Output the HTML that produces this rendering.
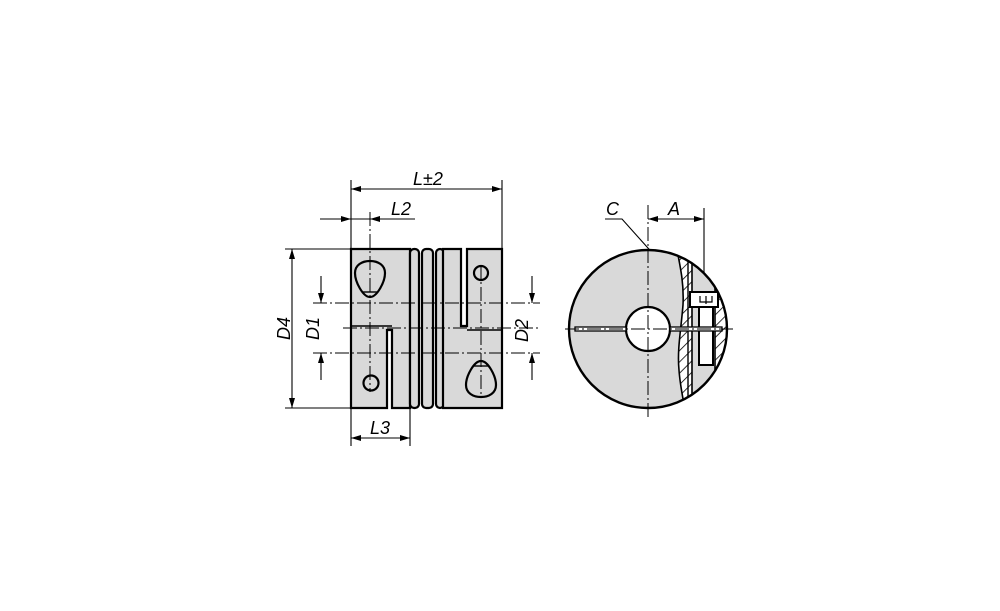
<!DOCTYPE html>
<html><head><style>html,body{margin:0;background:#fff}svg{display:block}</style></head><body>
<svg width="1000" height="611" viewBox="0 0 1000 611" xmlns="http://www.w3.org/2000/svg" font-family="Liberation Sans, sans-serif">
<defs>
<pattern id="h" width="8" height="8" patternUnits="userSpaceOnUse" patternTransform="rotate(45)"><line x1="0" y1="0" x2="0" y2="8" stroke="#000" stroke-width="1.6"/></pattern>
<marker id="a" viewBox="0 0 10 6" refX="10" refY="3" markerWidth="10" markerHeight="6" orient="auto-start-reverse" markerUnits="userSpaceOnUse"><path d="M0,0L10,3L0,6z" fill="#000"/></marker>
<clipPath id="cc"><circle cx="648" cy="329" r="79"/></clipPath>
</defs>
<g stroke="#000" fill="#d9d9d9" stroke-width="2.2">
<path d="M351,249H410V408H392V330H387V408H351Z"/>
<line x1="351" y1="326" x2="392" y2="326" stroke-width="1.4"/>
<rect x="410" y="249" width="9" height="159" rx="4"/>
<rect x="422" y="249" width="11" height="159" rx="4"/>
<rect x="436" y="249" width="8" height="159" rx="4"/>
<path d="M443,249H461V326H467V249H502V408H443Z"/>
<line x1="467" y1="330" x2="502" y2="330" stroke-width="1.4"/>
<line x1="461" y1="326" x2="467" y2="326" stroke-width="1.4"/>
<path d="M370,297C363,297 355,282 355,273C355,265 362,261 370,261C378,261 385,265 385,273C385,282 377,297 370,297Z" fill="none"/>
<line x1="362" y1="292" x2="378" y2="292" stroke-width="1.4"/>
<circle cx="371" cy="383" r="7.5" fill="none"/>
<circle cx="481" cy="273" r="7" fill="none"/>
<path d="M481,361C488,361 496,376 496,385C496,393 489,397 481,397C473,397 466,393 466,385C466,376 474,361 481,361Z" fill="none"/>
<line x1="473" y1="366" x2="489" y2="366" stroke-width="1.4"/>
</g>
<g stroke="#000" stroke-width="1" stroke-dasharray="14,3,2,3" fill="none">
<line x1="343" y1="328" x2="540" y2="328"/>
<line x1="313" y1="303" x2="540" y2="303"/>
<line x1="313" y1="353" x2="540" y2="353"/>
<line x1="370" y1="212" x2="370" y2="392"/>
<line x1="481" y1="265" x2="481" y2="395"/>
</g>
<g stroke="#000" stroke-width="1.1" fill="none">
<line x1="351" y1="180" x2="351" y2="249"/><line x1="502" y1="180" x2="502" y2="249"/>
<line x1="351" y1="189" x2="502" y2="189" marker-start="url(#a)" marker-end="url(#a)"/>
<line x1="320" y1="219" x2="351" y2="219" marker-end="url(#a)"/>
<line x1="415" y1="219" x2="370" y2="219" marker-end="url(#a)"/>
<line x1="351" y1="219" x2="370" y2="219"/>
<line x1="285" y1="249" x2="351" y2="249"/><line x1="285" y1="408" x2="351" y2="408"/>
<line x1="292" y1="249" x2="292" y2="408" marker-start="url(#a)" marker-end="url(#a)"/>
<line x1="321" y1="276" x2="321" y2="303" marker-end="url(#a)"/>
<line x1="321" y1="380" x2="321" y2="353" marker-end="url(#a)"/>
<line x1="532" y1="276" x2="532" y2="303" marker-end="url(#a)"/>
<line x1="532" y1="380" x2="532" y2="353" marker-end="url(#a)"/>
<line x1="351" y1="408" x2="351" y2="446"/><line x1="410" y1="408" x2="410" y2="446"/>
<line x1="351" y1="438" x2="410" y2="438" marker-start="url(#a)" marker-end="url(#a)"/>
<line x1="704" y1="208" x2="704" y2="297"/>
<line x1="648" y1="219" x2="704" y2="219" marker-start="url(#a)" marker-end="url(#a)"/>
<polyline points="605,219 622,219 690,295"/>
</g>
<circle cx="648" cy="329" r="79" fill="#d9d9d9" stroke="none"/>
<g clip-path="url(#cc)">
<path d="M677,250C681,270 684,285 683,305C681,330 677,350 679,370C680,385 683,398 685,410H740V250Z" fill="#fff"/>
<path d="M677,250C681,270 684,285 683,305C681,330 677,350 679,370C680,385 683,398 685,410H740V250Z" fill="url(#h)" stroke="#000" stroke-width="1.6"/>
<rect x="692" y="250" width="23" height="170" fill="#d9d9d9" stroke="#000" stroke-width="1.6"/>
<line x1="688" y1="250" x2="688" y2="410" stroke="#000" stroke-width="1.4"/>
<rect x="690" y="292" width="28" height="15" fill="#fff" stroke="#000" stroke-width="2"/>
<rect x="699" y="307" width="14" height="58" fill="#fff" stroke="#000" stroke-width="2"/>
<path d="M700,296V302H712V296M706,296V304" stroke="#000" fill="none" stroke-width="1.2"/>
</g>
<circle cx="648" cy="329" r="79" fill="none" stroke="#000" stroke-width="2.4"/>
<circle cx="648" cy="329" r="22" fill="#fff" stroke="#000" stroke-width="2.2"/>
<g stroke="#000" stroke-width="1.3" fill="#fff">
<rect x="575" y="327" width="51" height="4"/>
<rect x="670" y="327" width="52" height="4"/>
</g>
<line x1="565" y1="329" x2="735" y2="329" stroke="#000" stroke-width="1" stroke-dasharray="14,3,2,3"/>
<line x1="648" y1="205" x2="648" y2="420" stroke="#000" stroke-width="1" stroke-dasharray="14,3,2,3"/>
<g font-style="italic" font-size="18" fill="#000">
<text x="413" y="185">L±2</text>
<text x="391" y="215">L2</text>
<text x="370" y="434">L3</text>
<text transform="translate(290,340) rotate(-90)">D4</text>
<text transform="translate(319,340) rotate(-90)">D1</text>
<text transform="translate(528,342) rotate(-90)">D2</text>
<text x="606" y="215">C</text>
<text x="668" y="215">A</text>
</g>
</svg>
</body></html>
